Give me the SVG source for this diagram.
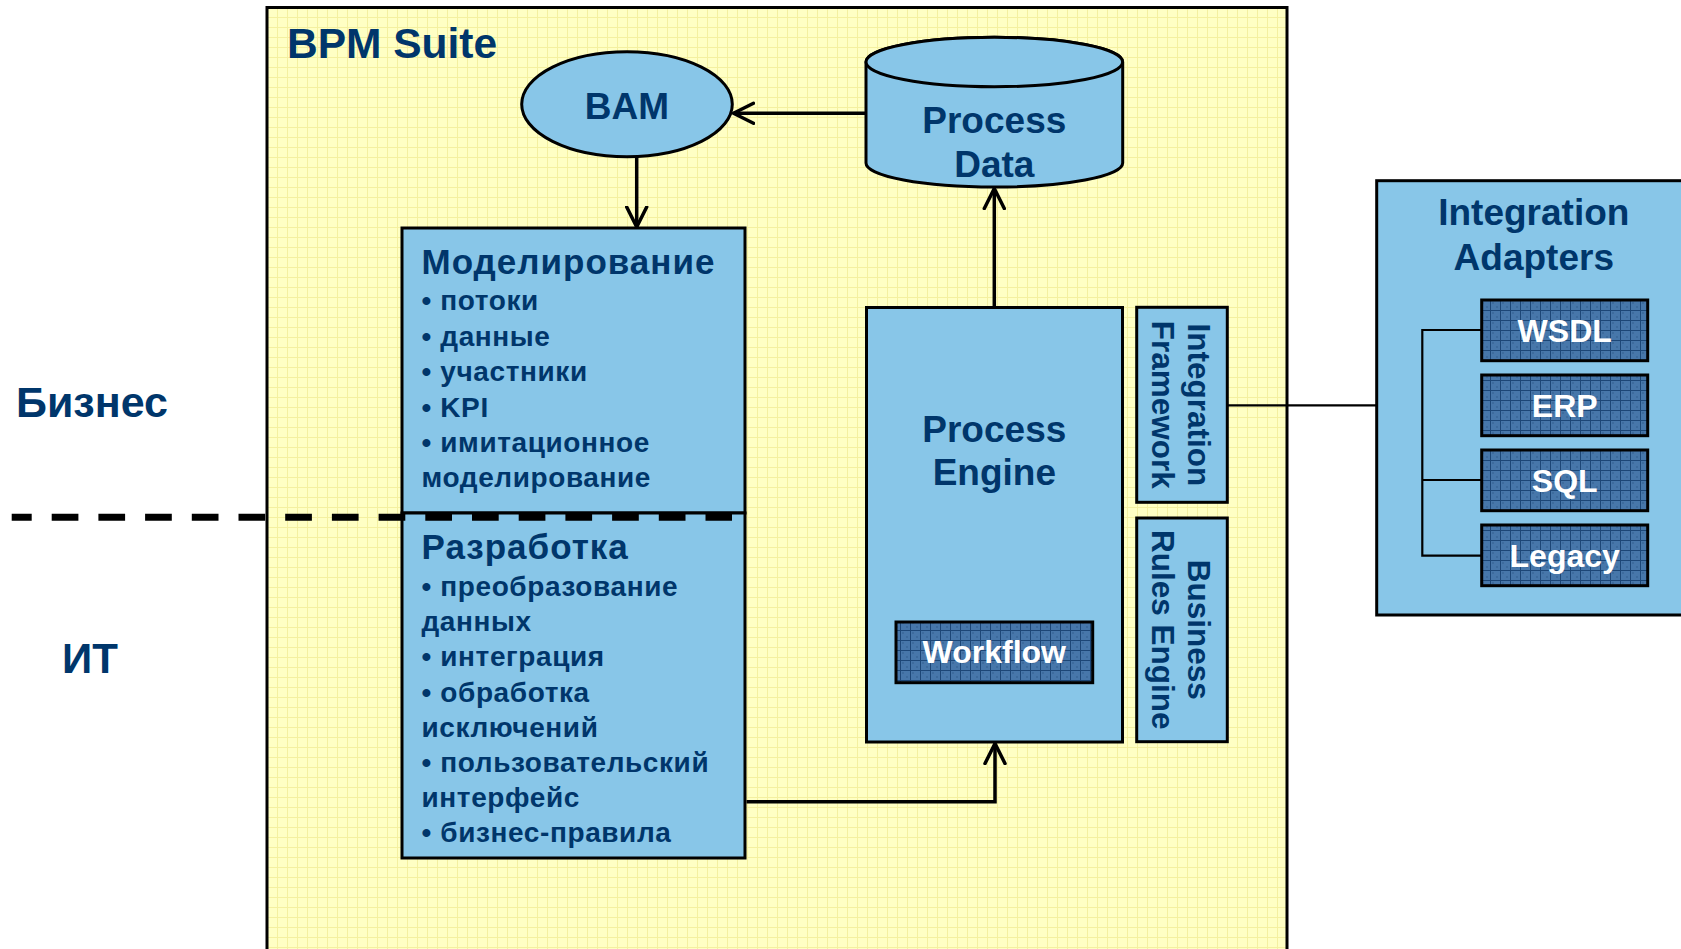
<svg xmlns="http://www.w3.org/2000/svg" width="1681" height="949" viewBox="0 0 1681 949">
<defs>
<pattern id="ygrid" patternUnits="userSpaceOnUse" x="267" y="7" width="10" height="10">
<rect width="10" height="10" fill="#ffffc4"/>
<path d="M0 0.5H10M0.5 0V10" stroke="#f4f0a0" stroke-width="1" fill="none"/>
</pattern>
<pattern id="bgrid" patternUnits="userSpaceOnUse" x="0" y="0" width="10" height="10">
<rect width="10" height="10" fill="#4777aa"/>
<rect x="2" y="2" width="2" height="2" fill="#3d6b9d"/>
<rect x="6" y="6" width="2" height="2" fill="#3d6b9d"/>
<path d="M0 0.5H10M0.5 0V10" stroke="#1c4676" stroke-width="1" fill="none"/>
</pattern>
<marker id="arr" viewBox="0 0 24 24" refX="21" refY="12" markerWidth="24" markerHeight="24" markerUnits="userSpaceOnUse" orient="auto">
<path d="M1 2 L21 12 L1 22" fill="none" stroke="#000" stroke-width="3.5" stroke-linecap="round" stroke-linejoin="round"/>
</marker>
<style>
.box{fill:#88c6e8;stroke:#000;stroke-width:3}
.btn{fill:url(#bgrid);stroke:#000;stroke-width:3}
.t{font-family:"Liberation Sans",Arial,sans-serif;font-weight:bold;fill:#00366b}
.w{font-family:"Liberation Sans",Arial,sans-serif;font-weight:bold;fill:#fff}
.c{text-anchor:middle}
.h{font-size:35px;letter-spacing:1px}
.b{font-size:28px;letter-spacing:0.6px}
.con{fill:none;stroke:#000;stroke-width:3.5}
.thin{fill:none;stroke:#000;stroke-width:2.2}
</style>
</defs>
<rect width="1681" height="949" fill="#fff"/>

<g id="bpm-suite">
<rect x="267" y="7.5" width="1020" height="960" fill="url(#ygrid)" stroke="#000" stroke-width="3"/>
<text class="t" x="287" y="58" font-size="42.5">BPM Suite</text>
</g>

<g id="labels">
<text class="t" x="16" y="416.5" font-size="43">Бизнес</text>
<text class="t" x="62" y="673" font-size="42">ИТ</text>
</g>

<g id="bam">
<ellipse cx="627" cy="104.2" rx="105.3" ry="52.5" class="box"/>
<text class="t c" x="627" y="119" font-size="37">BAM</text>
</g>

<g id="process-data">
<path class="box" d="M866 62 L866 163 A128.3 24 0 0 0 1122.7 163 L1122.7 62 A128.3 24.7 0 0 0 866 62 Z"/>
<ellipse cx="994.3" cy="62" rx="128.3" ry="24.7" class="box"/>
<text class="t c" x="994.3" y="133" font-size="37">Process</text>
<text class="t c" x="994.3" y="177" font-size="37">Data</text>
</g>

<g id="modeling">
<rect x="402" y="228" width="343" height="285" class="box"/>
<text class="t h" x="421.5" y="273.5">Моделирование</text>
<text class="t b" x="421.5" y="310">• потоки</text>
<text class="t b" x="421.5" y="345.5">• данные</text>
<text class="t b" x="421.5" y="381">• участники</text>
<text class="t b" x="421.5" y="416.5">• KPI</text>
<text class="t b" x="421.5" y="451.5">• имитационное</text>
<text class="t b" x="421.5" y="487">моделирование</text>
</g>

<g id="development">
<rect x="402" y="513" width="343" height="345" class="box"/>
<text class="t h" x="421.5" y="558.5">Разработка</text>
<text class="t b" x="421.5" y="595.5">• преобразование</text>
<text class="t b" x="421.5" y="630.5">данных</text>
<text class="t b" x="421.5" y="666">• интеграция</text>
<text class="t b" x="421.5" y="701.5">• обработка</text>
<text class="t b" x="421.5" y="736.5">исключений</text>
<text class="t b" x="421.5" y="771.5">• пользовательский</text>
<text class="t b" x="421.5" y="806.5">интерфейс</text>
<text class="t b" x="421.5" y="841.5">• бизнес-правила</text>
</g>

<g id="process-engine">
<rect x="866.5" y="307.5" width="256" height="434.5" class="box"/>
<text class="t c" x="994.3" y="442.3" font-size="37">Process</text>
<text class="t c" x="994.3" y="485" font-size="37">Engine</text>
</g>

<g id="workflow">
<rect x="896" y="622" width="196.7" height="60.7" class="btn"/>
<text class="w c" x="994.3" y="662.7" font-size="32">Workflow</text>
</g>

<g id="integration-framework">
<rect x="1136.7" y="307.3" width="90.6" height="195" class="box"/>
<text class="t c" font-size="31.5" transform="translate(1188.3 404.8) rotate(90)">Integration</text>
<text class="t c" font-size="31.5" transform="translate(1151.7 404.8) rotate(90)">Framework</text>
</g>

<g id="business-rules-engine">
<rect x="1136.7" y="518" width="90.6" height="223.7" class="box"/>
<text class="t c" font-size="31.5" transform="translate(1188.3 629.8) rotate(90)">Business</text>
<text class="t c" font-size="31.5" transform="translate(1151.7 629.8) rotate(90)">Rules Engine</text>
</g>

<g id="integration-adapters">
<rect x="1376.7" y="180.7" width="330" height="434.3" class="box"/>
<text class="t c" x="1533.8" y="225" font-size="37">Integration</text>
<text class="t c" x="1533.8" y="269.5" font-size="37">Adapters</text>
</g>

<g id="wsdl">
<rect x="1481.7" y="300" width="166" height="60.7" class="btn"/>
<text class="w c" x="1564.7" y="341.7" font-size="32">WSDL</text>
</g>
<g id="erp">
<rect x="1481.7" y="375" width="166" height="60.7" class="btn"/>
<text class="w c" x="1564.7" y="416.7" font-size="32">ERP</text>
</g>
<g id="sql">
<rect x="1481.7" y="450" width="166" height="60.7" class="btn"/>
<text class="w c" x="1564.7" y="491.7" font-size="32">SQL</text>
</g>
<g id="legacy">
<rect x="1481.7" y="525" width="166" height="60.7" class="btn"/>
<text class="w c" x="1564.7" y="566.7" font-size="32">Legacy</text>
</g>

<g id="connectors">
<line class="con" x1="866" y1="113.3" x2="733.5" y2="113.3" marker-end="url(#arr)"/>
<line class="con" x1="636.7" y1="156.7" x2="636.7" y2="227" marker-end="url(#arr)"/>
<line class="con" x1="994.3" y1="307" x2="994.3" y2="188.5" marker-end="url(#arr)"/>
<polyline class="con" points="746.5,801.7 995,801.7 995,743.5" marker-end="url(#arr)"/>
<line class="thin" x1="1227.3" y1="405.3" x2="1376.7" y2="405.3"/>
<polyline class="thin" points="1481.7,330 1422.3,330 1422.3,555.7 1481.7,555.7"/>
<line class="thin" x1="1422.3" y1="480" x2="1481.7" y2="480"/>
<line x1="11.7" y1="517.3" x2="732" y2="517.3" stroke="#000" stroke-width="7" stroke-dasharray="26.7 20" stroke-dashoffset="6.7"/>
</g>
</svg>
